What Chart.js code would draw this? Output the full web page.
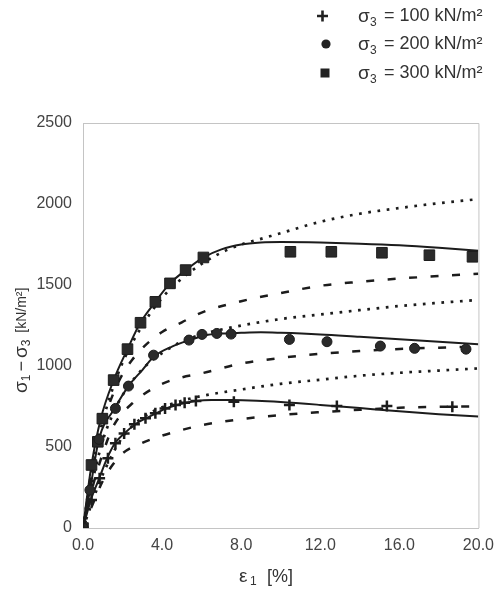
<!DOCTYPE html>
<html>
<head>
<meta charset="utf-8">
<script src="https://cdn.jsdelivr.net/npm/chart.js@4.4.1/dist/chart.umd.min.js"></script>
<style>
  html, body { margin: 0; padding: 0; background: #fff; }
  #wrap { width: 502px; height: 589px; }
</style>
</head>
<body>
<div id="wrap"><canvas id="c" width="502" height="589"></canvas></div>
<script>
// ---- Measured test data (markers) ----
const crossStrain  = [0, 0.43, 0.84, 1.26, 1.64, 2.08, 2.6, 3.16, 3.66, 4.15, 4.68, 5.14, 5.71, 7.63, 10.44, 12.84, 15.37, 18.68];
const crossStress  = [0, 173, 307, 430, 523, 584, 640, 677, 708, 738, 759, 773, 784, 779, 759, 753, 753, 749];
const circleStrain = [0, 0.35, 0.81, 1.64, 2.3, 3.57, 5.36, 6.02, 6.77, 7.49, 10.44, 12.34, 15.04, 16.77, 19.37];
const circleStress = [0, 234, 547, 738, 876, 1067, 1160, 1195, 1201, 1197, 1164, 1150, 1123, 1109, 1104];
const squareStrain = [0, 0.43, 0.75, 0.98, 1.55, 2.25, 2.91, 3.66, 4.40, 5.19, 6.09, 10.49, 12.56, 15.12, 17.52, 19.70];
const squareStress = [0, 389, 532, 675, 913, 1104, 1267, 1396, 1510, 1592, 1670, 1705, 1705, 1699, 1684, 1674];

// ---- Model curves: solid ----
const solid100Strain = [0, 0.4, 0.8, 1.2, 1.6, 2.1, 2.7, 3.2, 3.7, 4.2, 4.7, 5.2, 5.7, 6.5, 7.5, 8.8, 10, 12, 14, 16, 18, 20];
const solid100Stress = [0, 175, 300, 425, 520, 585, 645, 678, 708, 738, 758, 773, 784, 790, 790, 786, 778, 760, 740, 720, 702, 688];
const solid200Strain = [0, 0.35, 0.8, 1.6, 2.3, 3.0, 3.6, 4.5, 5.4, 6.2, 7, 8, 9, 10, 12, 14, 16, 18, 20];
const solid200Stress = [0, 230, 545, 738, 876, 975, 1060, 1120, 1160, 1190, 1200, 1205, 1208, 1205, 1195, 1180, 1165, 1150, 1135];
const solid300Strain = [0, 0.43, 0.9, 1.55, 2.25, 2.9, 3.66, 4.4, 5.2, 6.1, 7, 8, 9, 10, 12, 14, 16, 18, 20];
const solid300Stress = [0, 389, 675, 913, 1104, 1267, 1396, 1510, 1592, 1670, 1720, 1750, 1762, 1765, 1762, 1755, 1745, 1730, 1712];

// ---- Model curves: dotted ----
const dot100Strain = [0, 1, 2, 3, 4, 5, 6, 8, 10, 12, 14, 16, 18, 20];
const dot100Stress = [0, 330, 560, 680, 745, 785, 815, 855, 890, 915, 940, 958, 972, 985];
const dot200Strain = [0, 0.5, 1, 1.5, 2, 3, 4, 5, 6, 7, 8, 10, 12, 14, 16, 18, 20];
const dot200Stress = [0, 300, 540, 700, 820, 980, 1080, 1150, 1195, 1225, 1250, 1290, 1318, 1345, 1370, 1390, 1408];
const dot300Strain = [0, 0.5, 1, 1.5, 2, 3, 4, 5, 6, 7, 8, 9, 10, 12, 14, 16, 18, 20];
const dot300Stress = [0, 400, 660, 860, 1020, 1250, 1420, 1540, 1630, 1700, 1750, 1785, 1820, 1890, 1940, 1975, 2005, 2030];

// ---- Model curves: dashed ----
const dash100Strain = [0, 0.5, 1, 1.5, 2, 3, 4, 5, 6, 7, 8, 10, 12, 14, 16, 18, 20];
const dash100Stress = [0, 150, 290, 390, 460, 525, 570, 605, 635, 655, 672, 697, 715, 730, 742, 748, 750];
const dash200Strain = [0, 0.5, 1, 1.5, 2, 2.5, 3, 4, 5, 6, 8, 10, 12, 14, 16, 18, 20];
const dash200Stress = [0, 260, 460, 620, 710, 770, 820, 890, 930, 955, 1015, 1050, 1075, 1092, 1105, 1113, 1120];
const dash300Strain = [0, 0.5, 1, 1.5, 2, 2.5, 3, 4, 5, 6, 8, 10, 12, 14, 16, 18, 20];
const dash300Stress = [0, 380, 640, 820, 950, 1040, 1110, 1210, 1270, 1330, 1400, 1450, 1495, 1520, 1540, 1555, 1570];

// ---- Axis ticks / legend ----
const xTicks = [0, 4, 8, 12, 16, 20];
const yTicks = [0, 500, 1000, 1500, 2000, 2500];
const legendLabels = ['100', '200', '300'];

const pts = (xs, ys) => xs.map((x, i) => ({ x: x, y: ys[i] }));
const INK = '#1c1c1c';

function lineDS(xs, ys, dash, width) {
  return {
    data: pts(xs, ys), showLine: true, pointRadius: 0, pointHoverRadius: 0,
    borderColor: INK, borderWidth: width, borderDash: dash,
    cubicInterpolationMode: 'monotone', fill: false
  };
}

const datasets = [
  { data: pts(crossStrain, crossStress), pointStyle: 'cross', pointRadius: 5.5, borderWidth: 2.5, borderColor: INK, backgroundColor: INK, showLine: false },
  { data: pts(circleStrain, circleStress), pointStyle: 'circle', pointRadius: 5, borderWidth: 1, borderColor: INK, backgroundColor: '#2a2a2a', showLine: false },
  { data: pts(squareStrain, squareStress), pointStyle: 'rect', pointRadius: 7.5, borderWidth: 1, borderColor: INK, backgroundColor: '#2a2a2a', showLine: false },
  lineDS(solid100Strain, solid100Stress, [], 2),
  lineDS(solid200Strain, solid200Stress, [], 2),
  lineDS(solid300Strain, solid300Stress, [], 2),
  lineDS(dot100Strain, dot100Stress, [2.7, 6.6], 2.7),
  lineDS(dot200Strain, dot200Stress, [2.7, 6.6], 2.7),
  lineDS(dot300Strain, dot300Stress, [2.7, 6.6], 2.7),
  lineDS(dash100Strain, dash100Stress, [8, 13.5], 2.5),
  lineDS(dash200Strain, dash200Stress, [8, 13.5], 2.5),
  lineDS(dash300Strain, dash300Stress, [8, 13.5], 2.5)
];

const FONT = '"Liberation Sans", Arial, sans-serif';

const decor = {
  id: 'decor',
  beforeDraw(chart) {
    const ctx = chart.ctx;
    ctx.save();
    ctx.fillStyle = '#fff';
    ctx.fillRect(0, 0, chart.width, chart.height);
    ctx.restore();
  },
  afterDraw(chart) {
    const ctx = chart.ctx;
    const a = chart.chartArea;
    ctx.save();
    // top and right frame
    ctx.strokeStyle = '#c4c4c4';
    ctx.lineWidth = 1;
    ctx.beginPath();
    ctx.moveTo(a.left, a.top + 0.5); ctx.lineTo(a.right + 0.5, a.top + 0.5);
    ctx.lineTo(a.right + 0.5, a.bottom);
    ctx.stroke();

    ctx.fillStyle = '#333';
    ctx.textBaseline = 'middle';
    // x-axis title: ε1 [%]
    let x = 239, y = 577;
    ctx.textAlign = 'left';
    ctx.font = '19px ' + FONT;
    ctx.fillText('ε', x, y);
    ctx.font = '12px ' + FONT;
    ctx.fillText('1', x + 11, y + 5);
    ctx.font = '18px ' + FONT;
    ctx.fillText('[%]', x + 28, y);

    // y-axis title: σ1 − σ3 [kN/m²] (rotated)
    ctx.save();
    ctx.translate(22, 327);
    ctx.rotate(-Math.PI / 2);
    ctx.textAlign = 'left';
    let sx = -66;
    ctx.font = '19px ' + FONT;
    ctx.fillText('σ', sx, 0); sx += ctx.measureText('σ').width;
    ctx.font = '12px ' + FONT;
    ctx.fillText('1', sx, 5); sx += ctx.measureText('1').width + 3;
    ctx.font = '18px ' + FONT;
    ctx.fillText('−', sx, 0); sx += ctx.measureText('−').width + 3;
    ctx.font = '19px ' + FONT;
    ctx.fillText('σ', sx, 0); sx += ctx.measureText('σ').width;
    ctx.font = '12px ' + FONT;
    ctx.fillText('3', sx, 5); sx += ctx.measureText('3').width + 7;
    ctx.font = '14px ' + FONT;
    ctx.fillText('[kN/m²]', sx, 0);
    ctx.restore();

    // legend
    const rows = [16, 44, 73];
    rows.forEach((ry, i) => {
      ctx.fillStyle = '#222';
      ctx.strokeStyle = '#222';
      if (i === 0) {
        ctx.lineWidth = 2.6;
        ctx.beginPath();
        ctx.moveTo(317, ry); ctx.lineTo(328, ry);
        ctx.moveTo(322.5, ry - 5.5); ctx.lineTo(322.5, ry + 5.5);
        ctx.stroke();
      } else if (i === 1) {
        ctx.beginPath(); ctx.arc(326, ry, 4.6, 0, Math.PI * 2); ctx.fill();
      } else {
        ctx.fillRect(320.5, ry - 4.5, 9, 9);
      }
      ctx.fillStyle = '#333';
      ctx.textAlign = 'left';
      ctx.font = '19px ' + FONT;
      ctx.fillText('σ', 358, ry + 1);
      ctx.font = '12px ' + FONT;
      ctx.fillText('3', 370, ry + 7);
      ctx.font = '18px ' + FONT;
      ctx.fillText('= ' + legendLabels[i] + ' kN/m²', 384, ry);
    });
    ctx.restore();
  }
};

new Chart(document.getElementById('c'), {
  type: 'scatter',
  data: { datasets: datasets },
  options: {
    responsive: false,
    devicePixelRatio: 1,
    animation: false,
    events: [],
    layout: { padding: { top: 123, right: 15, left: 0, bottom: 0 } },
    plugins: { legend: { display: false }, tooltip: { enabled: false } },
    scales: {
      x: {
        type: 'linear', min: 0, max: 20,
        afterFit: s => { s.height = 61; },
        afterBuildTicks: s => { s.ticks = xTicks.map(v => ({ value: v })); },
        ticks: { color: '#444', font: { size: 16, family: FONT }, padding: 8, maxRotation: 0,
                 callback: v => Number(v).toFixed(1) },
        grid: { drawOnChartArea: false, drawTicks: false },
        border: { display: true, color: '#c4c4c4', width: 1 }
      },
      y: {
        type: 'linear', min: 0, max: 2500,
        afterFit: s => { s.width = 83; },
        afterBuildTicks: s => { s.ticks = yTicks.map(v => ({ value: v })); },
        ticks: { color: '#444', font: { size: 16, family: FONT }, padding: 11,
                 callback: v => String(v) },
        grid: { drawOnChartArea: false, drawTicks: false },
        border: { display: true, color: '#c4c4c4', width: 1 }
      }
    }
  },
  plugins: [decor]
});
</script>
</body>
</html>
